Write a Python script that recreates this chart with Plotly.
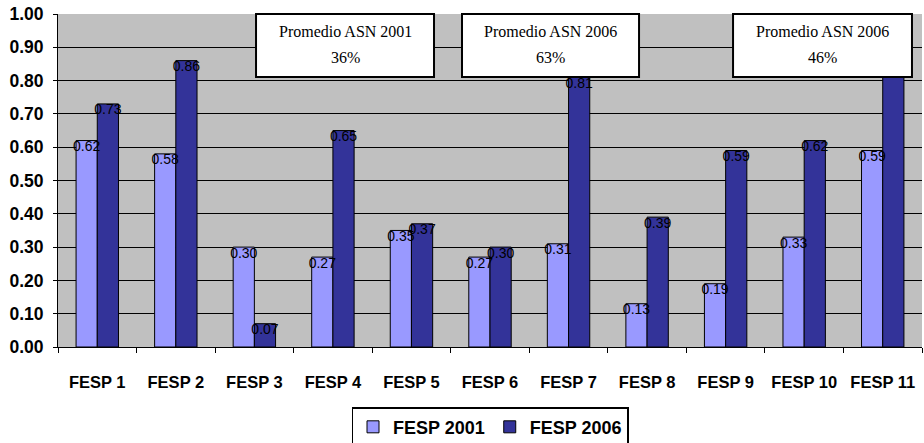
import plotly.graph_objects as go

categories = ["FESP 1", "FESP 2", "FESP 3", "FESP 4", "FESP 5", "FESP 6",
              "FESP 7", "FESP 8", "FESP 9", "FESP 10", "FESP 11"]
fesp_2001 = [0.62, 0.58, 0.30, 0.27, 0.35, 0.27, 0.31, 0.13, 0.19, 0.33, 0.59]
fesp_2006 = [0.73, 0.86, 0.07, 0.65, 0.37, 0.30, 0.81, 0.39, 0.59, 0.62, 0.84]
y_ticks = [0.0, 0.1, 0.2, 0.3, 0.4, 0.5, 0.6, 0.7, 0.8, 0.9, 1.0]

box_titles = ["Promedio ASN 2001", "Promedio ASN 2006", "Promedio ASN 2006"]
box_values = ["36%", "63%", "46%"]
box_x0 = [0.2292, 0.4676, 0.7813]
box_x1 = [0.4352, 0.6725, 0.9884]

C2001 = "#9999FF"
C2006 = "#333399"
SANS = "Liberation Sans, Arial, sans-serif"
SERIF = "Liberation Serif, Times New Roman, serif"

fig = go.Figure()
fig.add_trace(go.Bar(x=categories, y=fesp_2001, name="FESP 2001", offsetgroup="a",
                     marker=dict(color=C2001, line=dict(color="black", width=1))))
fig.add_trace(go.Bar(x=categories, y=fesp_2006, name="FESP 2006", offsetgroup="b",
                     marker=dict(color=C2006, line=dict(color="black", width=1))))
for vals, grp in [(fesp_2001, "a"), (fesp_2006, "b")]:
    fig.add_trace(go.Scatter(x=categories, y=vals, offsetgroup=grp, mode="text",
                             text=[f"{v:.2f}" for v in vals],
                             textposition="bottom center",
                             marker=dict(size=1),
                             textfont=dict(family=SANS, size=14, color="black"),
                             showlegend=False, hoverinfo="skip", cliponaxis=False))

shapes = []
annotations = []
for t, v, x0, x1 in zip(box_titles, box_values, box_x0, box_x1):
    shapes.append(dict(type="rect", xref="paper", yref="paper", x0=x0, x1=x1,
                       y0=0.8108, y1=1.0, fillcolor="white",
                       line=dict(color="black", width=2), layer="above"))
    xc = (x0 + x1) / 2
    annotations.append(dict(xref="paper", yref="paper", x=xc, y=0.946, text=t,
                            xanchor="center", yanchor="middle", showarrow=False,
                            font=dict(family=SERIF, size=16, color="black")))
    annotations.append(dict(xref="paper", yref="paper", x=xc, y=0.868, text=v,
                            xanchor="center", yanchor="middle", showarrow=False,
                            font=dict(family=SERIF, size=16, color="black")))

fig.update_layout(
    width=924, height=443, autosize=False,
    margin=dict(l=58, r=2, t=14, b=96, autoexpand=False),
    paper_bgcolor="white", plot_bgcolor="#C0C0C0",
    barmode="group", bargap=0.46, bargroupgap=0,
    scattermode="group", scattergap=0.46,
    showlegend=True,
    legend=dict(orientation="h", x=0.5, xanchor="center",
                yref="container", y=0.081, yanchor="top",
                bgcolor="white", bordercolor="black", borderwidth=1.5,
                font=dict(family=SANS, size=18, color="black", weight="bold"),
                itemwidth=30, traceorder="normal"),
    shapes=shapes, annotations=annotations,
    xaxis=dict(type="category", tickson="boundaries", ticks="outside", ticklen=5,
               tickcolor="black", showgrid=False, showline=True, linecolor="black",
               ticklabelstandoff=20, automargin=False,
               tickfont=dict(family=SANS, size=16.5, color="black", weight="bold")),
    yaxis=dict(range=[0, 1.0], tickvals=y_ticks, tickformat=".2f",
               showgrid=True, gridcolor="black", gridwidth=1,
               ticks="outside", ticklen=4, tickcolor="black", automargin=False,
               ticklabelstandoff=6,
               showline=True, linecolor="black", zeroline=False,
               tickfont=dict(family=SANS, size=17.5, color="black", weight="bold")),
)

fig.write_html("out.html", config={"displayModeBar": False},
               post_script="document.body.style.margin='0';document.body.style.overflow='hidden';")
